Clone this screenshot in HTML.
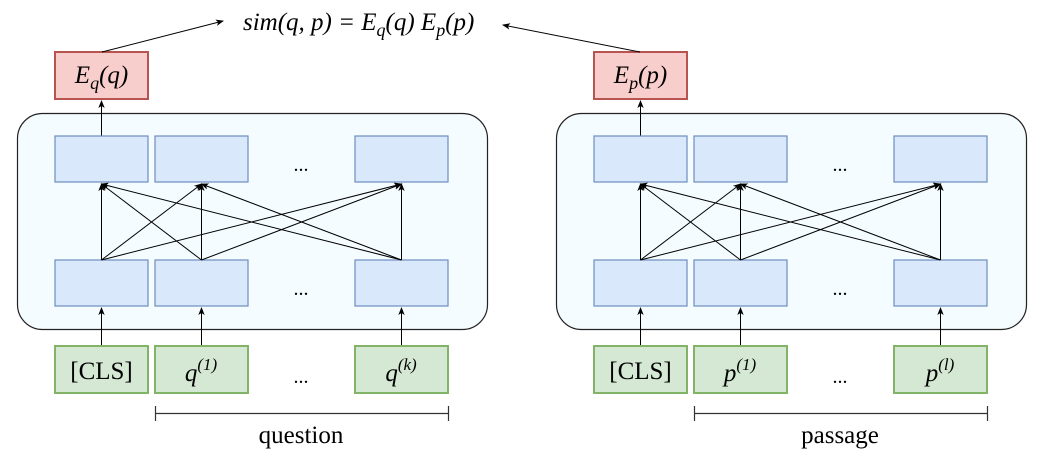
<!DOCTYPE html>
<html><head><meta charset="utf-8"><style>
html,body{margin:0;padding:0;background:#fff;}
svg{display:block;}
text{font-family:"Liberation Serif",serif;fill:#000;}
</style></head><body>
<svg width="1040" height="455" viewBox="0 0 1040 455" xmlns="http://www.w3.org/2000/svg">
<defs>
<marker id="a" markerWidth="8" markerHeight="8" refX="7" refY="4" orient="auto" markerUnits="userSpaceOnUse">
<path d="M0,0.8 L8,4 L0,7.2 L2,4 z" fill="#000"/>
</marker>
<g id="panel">
  <rect x="17.5" y="113.5" width="470" height="216" rx="25" fill="#f5fcff" stroke="#222" stroke-width="1.2"/>
  <rect x="55" y="52" width="93" height="47" fill="#f8cecc" stroke="#b85450" stroke-width="2"/>
  <line x1="101.5" y1="136" x2="101.5" y2="101" stroke="#000" stroke-width="1" marker-end="url(#a)"/>
  <rect x="55" y="136" width="93" height="46" fill="#dae8fc" stroke="#6c8ebf" stroke-width="1.2"/>
  <rect x="155" y="136" width="93" height="46" fill="#dae8fc" stroke="#6c8ebf" stroke-width="1.2"/>
  <rect x="355" y="136" width="93" height="46" fill="#dae8fc" stroke="#6c8ebf" stroke-width="1.2"/>
  <rect x="55" y="260" width="93" height="46" fill="#dae8fc" stroke="#6c8ebf" stroke-width="1.2"/>
  <rect x="155" y="260" width="93" height="46" fill="#dae8fc" stroke="#6c8ebf" stroke-width="1.2"/>
  <rect x="355" y="260" width="93" height="46" fill="#dae8fc" stroke="#6c8ebf" stroke-width="1.2"/>
  <text x="301" y="171" font-size="20" text-anchor="middle">...</text>
  <text x="301" y="295" font-size="20" text-anchor="middle">...</text>
  <text x="301" y="383" font-size="20" text-anchor="middle">...</text>
  <g stroke="#000" stroke-width="1" fill="none">
    <line x1="101.5" y1="260" x2="101.5" y2="184" marker-end="url(#a)"/>
    <line x1="101.5" y1="260" x2="201.5" y2="184" marker-end="url(#a)"/>
    <line x1="101.5" y1="260" x2="401.5" y2="184" marker-end="url(#a)"/>
    <line x1="201.5" y1="260" x2="101.5" y2="184" marker-end="url(#a)"/>
    <line x1="201.5" y1="260" x2="201.5" y2="184" marker-end="url(#a)"/>
    <line x1="201.5" y1="260" x2="401.5" y2="184" marker-end="url(#a)"/>
    <line x1="401.5" y1="260" x2="101.5" y2="184" marker-end="url(#a)"/>
    <line x1="401.5" y1="260" x2="201.5" y2="184" marker-end="url(#a)"/>
    <line x1="401.5" y1="260" x2="401.5" y2="184" marker-end="url(#a)"/>
    <line x1="101.5" y1="346" x2="101.5" y2="308" marker-end="url(#a)"/>
    <line x1="201.5" y1="346" x2="201.5" y2="308" marker-end="url(#a)"/>
    <line x1="401.5" y1="346" x2="401.5" y2="308" marker-end="url(#a)"/>
  </g>
  <rect x="55" y="346" width="93" height="47" fill="#d5e8d4" stroke="#82b366" stroke-width="2"/>
  <rect x="155" y="346" width="93" height="47" fill="#d5e8d4" stroke="#82b366" stroke-width="2"/>
  <rect x="355" y="346" width="93" height="47" fill="#d5e8d4" stroke="#82b366" stroke-width="2"/>
  <text x="101.5" y="379" font-size="25" text-anchor="middle">[CLS]</text>
  <g stroke="#333" stroke-width="1.2">
    <line x1="155.5" y1="413.5" x2="448.5" y2="413.5"/>
    <line x1="155.5" y1="406" x2="155.5" y2="421"/>
    <line x1="448.5" y1="406" x2="448.5" y2="421"/>
  </g>
</g>
</defs>

<use href="#panel"/>
<use href="#panel" transform="translate(539,0)"/>

<text x="101.5" y="83" font-size="25" font-style="italic" text-anchor="middle">E<tspan font-size="18" dy="6">q</tspan><tspan dy="-6">(q)</tspan></text>
<text x="201" y="381" font-size="25" font-style="italic" text-anchor="middle">q<tspan font-size="17" dy="-11">(1)</tspan></text>
<text x="401" y="381" font-size="25" font-style="italic" text-anchor="middle">q<tspan font-size="17" dy="-11">(k)</tspan></text>
<text x="301" y="443" font-size="25" text-anchor="middle">question</text>

<text x="640.5" y="83" font-size="25" font-style="italic" text-anchor="middle">E<tspan font-size="18" dy="6">p</tspan><tspan dy="-6">(p)</tspan></text>
<text x="740" y="381" font-size="25" font-style="italic" text-anchor="middle">p<tspan font-size="17" dy="-11">(1)</tspan></text>
<text x="940" y="381" font-size="25" font-style="italic" text-anchor="middle">p<tspan font-size="17" dy="-11">(l)</tspan></text>
<text x="840" y="443" font-size="25" text-anchor="middle">passage</text>

<text x="243" y="30" font-size="25" font-style="italic">sim(q, p) = E<tspan font-size="18" dy="6">q</tspan><tspan dy="-6">(q) E</tspan><tspan font-size="18" dy="6">p</tspan><tspan dy="-6">(p)</tspan></text>
<g stroke="#000" stroke-width="1">
  <line x1="102" y1="52" x2="223" y2="21" marker-end="url(#a)"/>
  <line x1="640" y1="52" x2="503" y2="25" marker-end="url(#a)"/>
</g>
</svg>
</body></html>
